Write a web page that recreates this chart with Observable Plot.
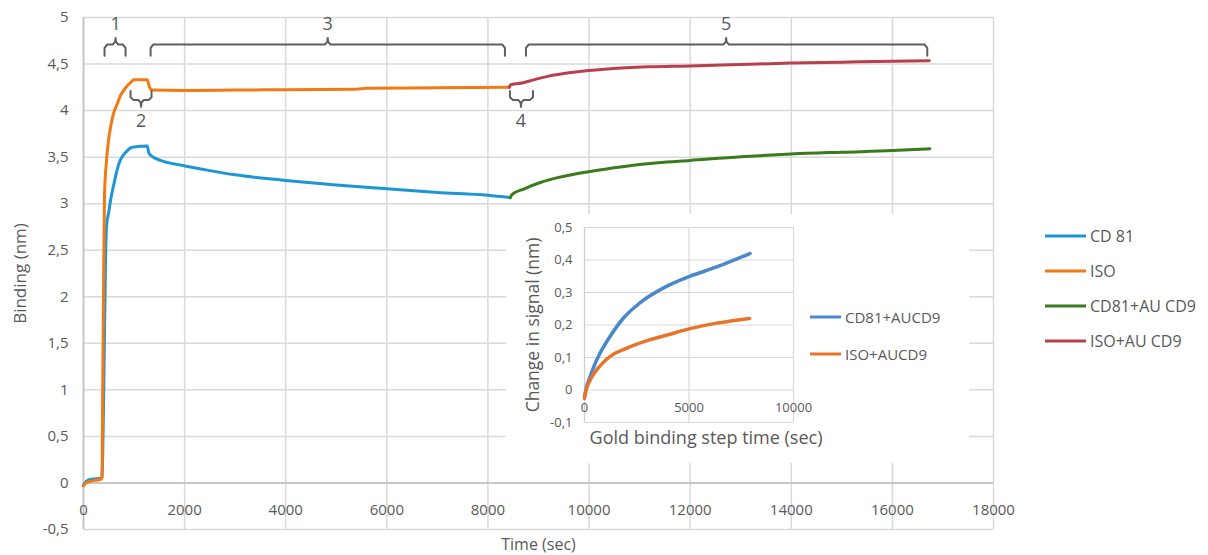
<!DOCTYPE html>
<html><head><meta charset="utf-8">
<script src="https://cdn.jsdelivr.net/npm/d3@7"></script>
<script src="https://cdn.jsdelivr.net/npm/@observablehq/plot@0.6"></script>
<style>
body{margin:0;background:#fff;}
#wrap{position:relative;width:1208px;height:555px;font-family:"Open Sans",sans-serif;color:#595959;overflow:hidden;}
#main{position:absolute;left:0;top:0;}
#inset{position:absolute;left:506px;top:214px;width:463px;height:249px;background:#fff;}
.leg{position:absolute;display:flex;align-items:center;white-space:nowrap;height:20px;}
.leg svg{display:block;}
</style></head><body>
<div id="wrap"><div id="main"></div><div id="inset"></div></div>
<script>
// ---------- main chart data (time in sec, binding in nm) ----------
const seriesNames = ["CD 81", "ISO", "CD81+AU CD9", "ISO+AU CD9"];
const seriesColors = ["#1e96d6", "#f27914", "#3b7a1e", "#b8404d"];

const cd81T = [0, 60, 150, 360, 380, 400, 420, 436, 455, 502, 550, 601, 650, 700, 760, 832, 931, 1000, 1261, 1290, 1327, 1525, 1920, 2500, 3000, 4000, 5000, 6000, 7000, 8000, 8440];
const cd81V = [-0.02, 0.02, 0.04, 0.05, 0.3, 0.96, 1.8, 2.39, 2.75, 2.92, 3.08, 3.21, 3.33, 3.43, 3.50, 3.55, 3.60, 3.61, 3.62, 3.55, 3.52, 3.465, 3.415, 3.355, 3.31, 3.25, 3.20, 3.16, 3.12, 3.09, 3.065];

const isoT = [0, 50, 150, 340, 368, 380, 395, 416, 455, 490, 535, 600, 667, 730, 799, 870, 931, 997, 1261, 1300, 1360, 2000, 3000, 4000, 5400, 5600, 7000, 8420];
const isoV = [-0.03, 0.0, 0.02, 0.04, 0.06, 1.0, 2.0, 3.1, 3.46, 3.66, 3.82, 3.98, 4.07, 4.16, 4.22, 4.27, 4.30, 4.33, 4.33, 4.26, 4.22, 4.215, 4.22, 4.225, 4.23, 4.24, 4.245, 4.25];

const cd81AuT = [8440, 8480, 8720, 9050, 9380, 9990, 10700, 11360, 12000, 13010, 14000, 15000, 16000, 16740];
const cd81AuV = [3.065, 3.10, 3.16, 3.23, 3.28, 3.344, 3.40, 3.44, 3.465, 3.505, 3.534, 3.553, 3.57, 3.59];

const isoAuT = [8420, 8460, 8700, 8900, 9200, 9660, 10420, 11170, 12000, 13000, 14000, 15000, 16000, 16730];
const isoAuV = [4.25, 4.28, 4.30, 4.33, 4.37, 4.41, 4.45, 4.47, 4.48, 4.495, 4.51, 4.52, 4.53, 4.535];

const xTicks = [0, 2000, 4000, 6000, 8000, 10000, 12000, 14000, 16000, 18000];
const yTicks = [-0.5, 0, 0.5, 1, 1.5, 2, 2.5, 3, 3.5, 4, 4.5, 5];

// step brackets (time spans in sec)
const bracketLabel = ["1", "2", "3", "4", "5"];
const bracketFrom = [416, 931, 1327, 8435, 8752];
const bracketTo = [832, 1346, 8336, 8890, 16690];
const bracketMid = [634, 1139, 4831, 8653, 12712];
const bracketSide = ["above", "below", "above", "below", "above"];

// ---------- inset data ----------
const insetNames = ["CD81+AUCD9", "ISO+AUCD9"];
const insetColors = ["#4a88cc", "#e8742a"];
const inCd81T = [0, 100, 268, 500, 741, 1215, 1845, 2634, 3896, 5000, 6262, 7000, 7920];
const inCd81V = [-0.02, 0.01, 0.041, 0.08, 0.113, 0.164, 0.22, 0.267, 0.318, 0.349, 0.377, 0.396, 0.42];
const inIsoT = [0, 80, 189, 400, 584, 900, 1215, 2003, 3107, 4000, 5000, 6262, 7000, 7900];
const inIsoV = [-0.026, 0.0, 0.02, 0.045, 0.062, 0.085, 0.103, 0.128, 0.154, 0.17, 0.188, 0.205, 0.212, 0.22];
const inXTicks = [0, 5000, 10000];
const inYTicks = [-0.1, 0, 0.1, 0.2, 0.3, 0.4, 0.5];

// ---------- build ----------
const zip = (T, V, s) => T.map((t, i) => ({t, v: V[i], s}));
const mainSeries = [zip(cd81T, cd81V, 0), zip(isoT, isoV, 1), zip(cd81AuT, cd81AuV, 2), zip(isoAuT, isoAuV, 3)];
const fmt = d => String(Math.round(d * 10) / 10).replace(".", ",");
const textCol = "#595959";
const gridCol = "#d9d9d9";

const lvAbove = {end: 4.59, bar: 4.71, tip: 4.78, label: 4.93};
const lvBelow = {end: 4.21, bar: 4.115, tip: 4.04, label: 3.885};
const bracketPts = [];
bracketLabel.forEach((lab, i) => {
  const lv = bracketSide[i] === "above" ? lvAbove : lvBelow;
  const a = bracketFrom[i], b = bracketTo[i], m = bracketMid[i];
  const r = 55, k = (lv.bar - lv.end) * 0.3, q = (lv.tip - lv.bar);
  [[a, lv.end], [a, lv.bar - k], [a + r, lv.bar], [m - r, lv.bar], [m - r * 0.15, lv.bar + q * 0.4], [m, lv.tip],
   [m + r * 0.15, lv.bar + q * 0.4], [m + r, lv.bar], [b - r, lv.bar], [b, lv.bar - k], [b, lv.end]]
    .forEach(([t, v]) => bracketPts.push({t, v, g: lab}));
});

const mainPlot = Plot.plot({
  width: 1208, height: 555,
  marginLeft: 83, marginRight: 215, marginTop: 17, marginBottom: 26,
  x: {domain: [0, 18000], axis: null},
  y: {domain: [-0.5, 5]},
  style: {fontFamily: '"Open Sans", sans-serif', fontSize: "15px", color: textCol, background: "transparent", overflow: "visible"},
  marks: [
    Plot.gridX(xTicks, {stroke: gridCol, strokeOpacity: 1, strokeWidth: 1.5}),
    Plot.gridY(yTicks, {stroke: gridCol, strokeOpacity: 1, strokeWidth: 1.5}),
    Plot.ruleX([0], {stroke: "#bfbfbf", strokeWidth: 1.5}),
    Plot.ruleY([0], {stroke: "#bfbfbf", strokeWidth: 1.5}),
    Plot.axisY(yTicks, {tickSize: 0, tickPadding: 15, tickFormat: fmt, label: null}),
    Plot.text(xTicks, {x: d => d, y: () => 0, dy: 27, text: d => String(d), fill: textCol}),
    Plot.text(["Binding (nm)"], {frameAnchor: "left", dx: -63, rotate: -90, textAnchor: "middle", lineAnchor: "middle", fontSize: 17, fill: textCol}),
    Plot.text(["Time (sec)"], {frameAnchor: "bottom", dy: 15, textAnchor: "middle", lineAnchor: "middle", fontSize: 16, fill: textCol}),
    ...mainSeries.map((d, i) => Plot.line(d, {x: "t", y: "v", stroke: seriesColors[i], strokeWidth: 3, curve: "monotone-x", strokeLinejoin: "round"})),
    Plot.line(bracketPts, {x: "t", y: "v", z: "g", stroke: "#5f5f5f", strokeWidth: 2, curve: "linear"}),
    Plot.text(bracketLabel, {x: (d, i) => bracketMid[i], y: (d, i) => (bracketSide[i] === "above" ? lvAbove : lvBelow).label, text: d => d, fontSize: 18, fill: textCol})
  ]
});
document.getElementById("main").append(mainPlot);

const insetSeries = [zip(inCd81T, inCd81V, 0), zip(inIsoT, inIsoV, 1)];
const insetPlot = Plot.plot({
  width: 463, height: 249,
  marginLeft: 78, marginRight: 176, marginTop: 13, marginBottom: 41,
  x: {domain: [0, 10000], axis: null},
  y: {domain: [-0.1, 0.5]},
  style: {fontFamily: '"Open Sans", sans-serif', fontSize: "13px", color: textCol, background: "#fff", overflow: "visible"},
  marks: [
    Plot.gridY(inYTicks, {stroke: gridCol, strokeOpacity: 1, strokeWidth: 1.2}),
    Plot.gridX(inXTicks, {stroke: gridCol, strokeOpacity: 1, strokeWidth: 1.2}),
    Plot.ruleX([0], {stroke: "#cfcfcf", strokeWidth: 1.2}),
    Plot.axisY(inYTicks, {tickSize: 0, tickPadding: 12, tickFormat: fmt, label: null}),
    Plot.text(inXTicks, {x: d => d, y: () => 0, dy: 18, text: d => String(d), fill: textCol}),
    Plot.text(["Change in signal (nm)"], {frameAnchor: "left", dx: -51, rotate: -90, textAnchor: "middle", lineAnchor: "middle", fontSize: 17.5, fill: textCol}),
    Plot.text(["Gold binding step time (sec)"], {frameAnchor: "bottom", dx: 17, dy: 16, textAnchor: "middle", lineAnchor: "middle", fontSize: 18, fill: textCol}),
    ...insetSeries.map((d, i) => Plot.line(d, {x: "t", y: "v", stroke: insetColors[i], strokeWidth: 3.5, curve: "monotone-x", strokeLinejoin: "round"}))
  ]
});
document.getElementById("inset").append(insetPlot);

// legends
const wrap = document.getElementById("wrap");
function addLegend(names, colors, left, tops, lineLen, fontSize, lw) {
  names.forEach((n, i) => {
    const div = document.createElement("div");
    div.className = "leg";
    div.style.left = left + "px";
    div.style.top = (tops[i] - 10) + "px";
    div.style.fontSize = fontSize + "px";
    div.innerHTML = `<svg width="${lineLen}" height="8"><line x1="0" x2="${lineLen}" y1="4" y2="4" stroke="${colors[i]}" stroke-width="${lw}"/></svg><span style="margin-left:4px">${n}</span>`;
    wrap.append(div);
  });
}
addLegend(seriesNames, seriesColors, 1045, [236, 271, 306, 341], 41, 16, 3);
addLegend(insetNames, insetColors, 810, [317, 354], 31, 15, 3);
</script>
</body></html>
